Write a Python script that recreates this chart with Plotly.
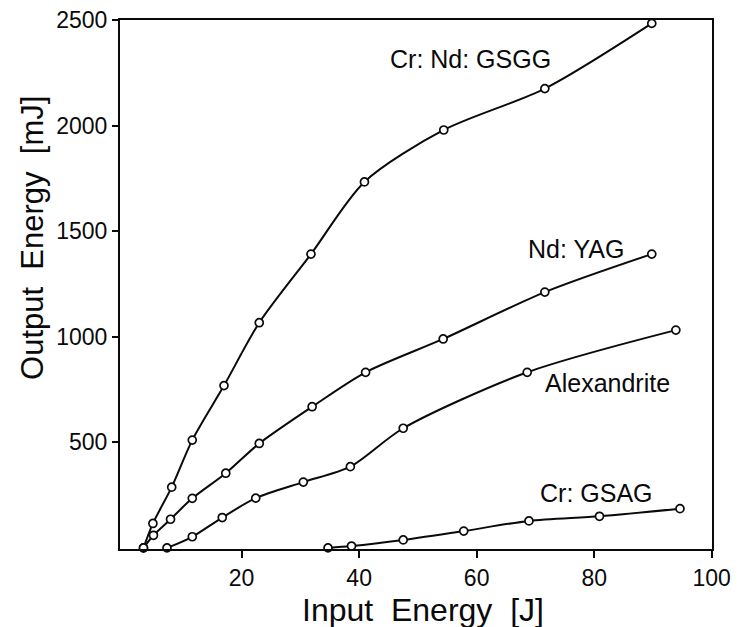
import plotly.graph_objects as go

# Data
gsgg_x = [3.3, 4.9, 8.1, 11.6, 17.0, 23.0, 31.8, 40.9, 54.4, 71.6, 89.8]
gsgg_y = [0, 116, 288, 511, 769, 1067, 1392, 1734, 1980, 2176, 2485]

yag_x = [3.3, 5.0, 7.9, 11.6, 17.3, 23.0, 32.0, 41.1, 54.3, 71.6, 89.8]
yag_y = [0, 60, 136, 235, 354, 495, 669, 832, 990, 1212, 1392]

alex_x = [7.3, 11.6, 16.7, 22.4, 30.5, 38.5, 47.5, 68.6, 93.9]
alex_y = [0, 53, 144, 236, 312, 385, 567, 832, 1032]

gsag_x = [34.7, 38.7, 47.5, 57.8, 68.9, 80.9, 94.6]
gsag_y = [0, 9, 38, 80, 128, 150, 186]

series = [
    ("Cr: Nd: GSGG", gsgg_x, gsgg_y),
    ("Nd: YAG", yag_x, yag_y),
    ("Alexandrite", alex_x, alex_y),
    ("Cr: GSAG", gsag_x, gsag_y),
]

# label positions (data coords)
label_names = ["Cr: Nd: GSGG", "Nd: YAG", "Alexandrite", "Cr: GSAG"]
label_x = [59.0, 76.9, 82.2, 80.4]
label_y = [2317, 1414, 780, 258]

x_ticks = [20, 40, 60, 80, 100]
y_ticks = [500, 1000, 1500, 2000, 2500]

INK = "#0a0a0a"
FONT = "Liberation Sans, Arial, Helvetica, sans-serif"

fig = go.Figure()
for name, xs, ys in series:
    fig.add_trace(go.Scatter(
        x=xs, y=ys, name=name, mode="lines+markers",
        line=dict(color=INK, width=2, shape="spline", smoothing=0.8),
        marker=dict(symbol="circle", size=8, color="white",
                    line=dict(color=INK, width=1.7)),
        showlegend=False, cliponaxis=False,
    ))

for t, lx, ly in zip(label_names, label_x, label_y):
    fig.add_annotation(x=lx, y=ly, xref="x", yref="y", text=t, showarrow=False,
                       font=dict(family=FONT, size=25, color=INK))

fig.add_annotation(x=0.512, y=-0.115, xref="paper", yref="paper", yanchor="middle",
                   text="Input  Energy  [J]", showarrow=False,
                   font=dict(family=FONT, size=32, color=INK))
fig.add_annotation(x=-0.147, y=0.588, xref="paper", yref="paper", xanchor="center",
                   yanchor="middle",
                   text="Output  Energy  [mJ]", showarrow=False, textangle=-90,
                   font=dict(family=FONT, size=31, color=INK))

fig.update_xaxes(range=[-0.7, 100.05], tickvals=x_ticks, ticks="outside", ticklen=7,
                 tickwidth=2, tickcolor=INK, showline=True, linewidth=2,
                 linecolor=INK, mirror=True, showgrid=False, zeroline=False,
                 automargin=False, ticklabeloverflow="allow",
                 tickfont=dict(family=FONT, size=23, color=INK))
fig.update_yaxes(range=[-5, 2501], tickvals=y_ticks, ticks="outside", ticklen=6,
                 tickwidth=2, tickcolor=INK, showline=True, linewidth=2,
                 linecolor=INK, mirror=True, showgrid=False, zeroline=False,
                 automargin=False, ticklabeloverflow="allow",
                 tickfont=dict(family=FONT, size=23, color=INK))

fig.update_layout(
    width=739, height=627,
    margin=dict(l=112, r=35, t=12, b=86, autoexpand=False),
    plot_bgcolor="white", paper_bgcolor="white",
)

fig.write_html("out.html")
